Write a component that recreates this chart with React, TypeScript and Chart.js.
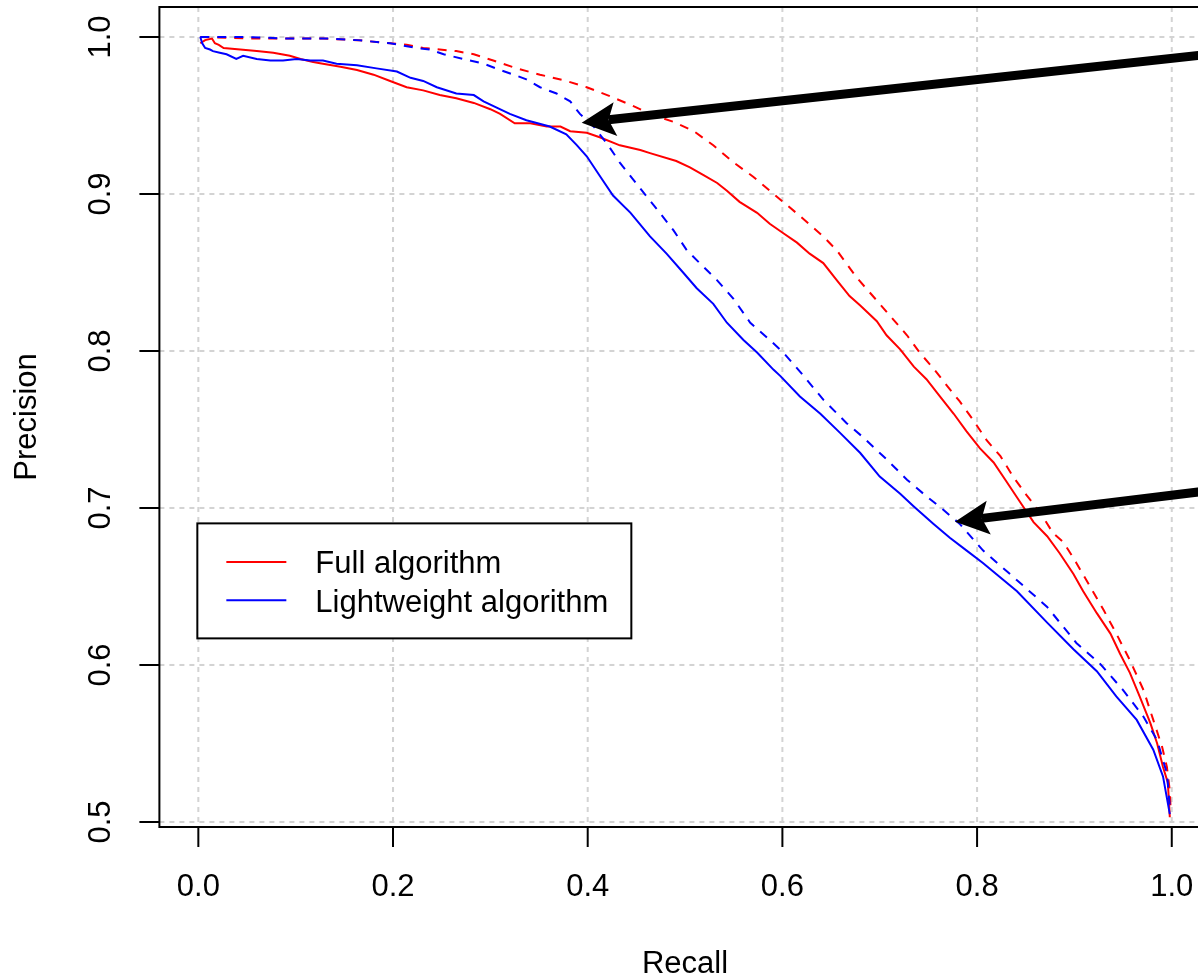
import React, { useEffect, useRef } from "react";
import { Chart, registerables } from "chart.js";

Chart.register(...registerables);

// ---- Axis ticks ----
const xTickValues = [0, 0.2, 0.4, 0.6, 0.8, 1.0];
const xTickLabels = ["0.0", "0.2", "0.4", "0.6", "0.8", "1.0"];
const yTickValues = [0.5, 0.6, 0.7, 0.8, 0.9, 1.0];
const yTickLabels = ["0.5", "0.6", "0.7", "0.8", "0.9", "1.0"];
const xAxisTitle = "Recall";
const yAxisTitle = "Precision";

// ---- Series: Full algorithm (solid red) ----
const fullRecall = [0.002, 0.007, 0.014, 0.017, 0.021, 0.026, 0.043, 0.060, 0.077, 0.094, 0.105, 0.118, 0.128, 0.146, 0.163, 0.180, 0.197, 0.214, 0.231, 0.248, 0.265, 0.283, 0.300, 0.310, 0.325, 0.341, 0.358, 0.372, 0.382, 0.399, 0.413, 0.433, 0.454, 0.464, 0.491, 0.505, 0.519, 0.533, 0.543, 0.556, 0.574, 0.587, 0.601, 0.615, 0.628, 0.642, 0.656, 0.669, 0.680, 0.697, 0.707, 0.721, 0.735, 0.748, 0.762, 0.776, 0.789, 0.803, 0.817, 0.830, 0.844, 0.858, 0.872, 0.885, 0.899, 0.909, 0.923, 0.937, 0.947, 0.957, 0.967, 0.978, 0.985, 0.991, 0.996, 0.998];
const fullPrecision = [0.996, 0.998, 0.999, 0.996, 0.995, 0.993, 0.992, 0.991, 0.990, 0.988, 0.986, 0.984, 0.983, 0.981, 0.979, 0.976, 0.972, 0.968, 0.966, 0.963, 0.961, 0.958, 0.954, 0.951, 0.945, 0.945, 0.943, 0.943, 0.940, 0.939, 0.936, 0.931, 0.928, 0.926, 0.921, 0.917, 0.912, 0.907, 0.902, 0.895, 0.888, 0.881, 0.875, 0.869, 0.862, 0.856, 0.845, 0.835, 0.829, 0.819, 0.810, 0.801, 0.790, 0.782, 0.771, 0.760, 0.749, 0.738, 0.729, 0.717, 0.704, 0.691, 0.682, 0.671, 0.658, 0.647, 0.633, 0.620, 0.607, 0.595, 0.580, 0.563, 0.550, 0.535, 0.525, 0.503];

// ---- Series: Full algorithm (dashed red) ----
const fullDashRecall = [0.002, 0.060, 0.094, 0.128, 0.163, 0.197, 0.214, 0.231, 0.248, 0.265, 0.283, 0.303, 0.327, 0.351, 0.378, 0.399, 0.420, 0.447, 0.464, 0.488, 0.509, 0.529, 0.550, 0.570, 0.591, 0.618, 0.642, 0.656, 0.676, 0.700, 0.714, 0.728, 0.741, 0.755, 0.769, 0.782, 0.796, 0.810, 0.824, 0.837, 0.851, 0.865, 0.878, 0.889, 0.902, 0.916, 0.930, 0.943, 0.957, 0.971, 0.981, 0.990, 0.995, 0.998, 0.999];
const fullDashPrecision = [1.000, 0.999, 0.999, 0.999, 0.998, 0.996, 0.995, 0.993, 0.992, 0.991, 0.989, 0.985, 0.980, 0.976, 0.972, 0.968, 0.963, 0.956, 0.951, 0.946, 0.940, 0.931, 0.920, 0.911, 0.900, 0.886, 0.873, 0.864, 0.847, 0.830, 0.820, 0.810, 0.799, 0.789, 0.778, 0.768, 0.756, 0.743, 0.733, 0.720, 0.708, 0.697, 0.684, 0.678, 0.665, 0.650, 0.635, 0.620, 0.603, 0.584, 0.565, 0.548, 0.535, 0.520, 0.506];

// ---- Series: Lightweight algorithm (solid blue) ----
const lightRecall = [0.002, 0.004, 0.007, 0.012, 0.015, 0.022, 0.029, 0.039, 0.046, 0.060, 0.074, 0.087, 0.101, 0.115, 0.128, 0.142, 0.163, 0.183, 0.204, 0.218, 0.231, 0.245, 0.265, 0.283, 0.293, 0.320, 0.337, 0.361, 0.378, 0.389, 0.399, 0.413, 0.426, 0.444, 0.464, 0.481, 0.498, 0.512, 0.529, 0.543, 0.560, 0.574, 0.591, 0.598, 0.618, 0.639, 0.659, 0.680, 0.700, 0.721, 0.735, 0.755, 0.772, 0.789, 0.806, 0.841, 0.872, 0.899, 0.923, 0.943, 0.964, 0.981, 0.991, 0.998];
const lightPrecision = [1.000, 0.996, 0.993, 0.992, 0.991, 0.990, 0.989, 0.986, 0.988, 0.986, 0.985, 0.985, 0.986, 0.985, 0.985, 0.983, 0.982, 0.980, 0.978, 0.974, 0.972, 0.968, 0.964, 0.963, 0.959, 0.951, 0.947, 0.943, 0.938, 0.931, 0.924, 0.911, 0.899, 0.888, 0.873, 0.862, 0.850, 0.840, 0.830, 0.818, 0.807, 0.799, 0.788, 0.784, 0.771, 0.760, 0.748, 0.735, 0.720, 0.709, 0.701, 0.690, 0.681, 0.673, 0.665, 0.647, 0.627, 0.610, 0.596, 0.580, 0.565, 0.546, 0.529, 0.505];

// ---- Series: Lightweight algorithm (dashed blue) ----
const lightDashRecall = [0.002, 0.043, 0.094, 0.135, 0.163, 0.197, 0.224, 0.238, 0.252, 0.272, 0.293, 0.310, 0.324, 0.337, 0.351, 0.368, 0.382, 0.392, 0.406, 0.420, 0.433, 0.447, 0.461, 0.474, 0.488, 0.502, 0.515, 0.533, 0.550, 0.567, 0.587, 0.601, 0.622, 0.642, 0.666, 0.683, 0.707, 0.728, 0.745, 0.765, 0.782, 0.806, 0.841, 0.872, 0.902, 0.926, 0.950, 0.971, 0.985, 0.995, 0.998];
const lightDashPrecision = [1.000, 1.000, 0.999, 0.999, 0.998, 0.996, 0.993, 0.992, 0.989, 0.986, 0.983, 0.979, 0.976, 0.973, 0.968, 0.964, 0.959, 0.951, 0.943, 0.932, 0.920, 0.909, 0.898, 0.888, 0.877, 0.864, 0.856, 0.845, 0.833, 0.818, 0.807, 0.799, 0.784, 0.769, 0.754, 0.745, 0.731, 0.718, 0.709, 0.699, 0.690, 0.673, 0.654, 0.637, 0.614, 0.601, 0.584, 0.567, 0.552, 0.531, 0.510];

// ---- Legend entries ----
const legendLabels = ["Full algorithm", "Lightweight algorithm"];
const legendColors = ["#ff0000", "#0000ff"];

// ---- Annotation arrows (data coordinates) ----
const arrowFromX = [1.10, 1.10];
const arrowFromY = [0.9931, 0.7157];
const arrowToX = [0.3938, 0.7773];
const arrowToY = [0.9454, 0.6913];

const FONT = '31px "Liberation Sans", Arial, Helvetica, sans-serif';

const toPoints = (xs: number[], ys: number[]) => xs.map((x, i) => ({ x, y: ys[i] }));

const decorPlugin = {
  id: "decor",
  beforeDraw(chart: any) {
    const { ctx, width, height } = chart;
    ctx.save();
    ctx.fillStyle = "#ffffff";
    ctx.fillRect(0, 0, width, height);
    ctx.restore();
  },
  beforeDatasetsDraw(chart: any) {
    const { ctx, chartArea, scales } = chart;
    const xs = scales.x;
    const ys = scales.y;
    ctx.save();
    ctx.strokeStyle = "#d3d3d3";
    ctx.lineWidth = 2;
    ctx.setLineDash([5, 5]);
    xTickValues.forEach((v) => {
      const px = xs.getPixelForValue(v);
      ctx.beginPath();
      ctx.moveTo(px, chartArea.top);
      ctx.lineTo(px, chartArea.bottom);
      ctx.stroke();
    });
    yTickValues.forEach((v) => {
      const py = ys.getPixelForValue(v);
      ctx.beginPath();
      ctx.moveTo(chartArea.left, py);
      ctx.lineTo(chartArea.right, py);
      ctx.stroke();
    });
    ctx.restore();
  },
  afterDatasetsDraw(chart: any) {
    const { ctx, chartArea, scales } = chart;
    const xs = scales.x;
    const ys = scales.y;
    ctx.save();
    // box
    ctx.strokeStyle = "#000";
    ctx.lineWidth = 2;
    ctx.setLineDash([]);
    ctx.strokeRect(chartArea.left, chartArea.top, chartArea.right - chartArea.left, chartArea.bottom - chartArea.top);
    // ticks
    xTickValues.forEach((v) => {
      const px = xs.getPixelForValue(v);
      ctx.beginPath();
      ctx.moveTo(px, chartArea.bottom);
      ctx.lineTo(px, chartArea.bottom + 20);
      ctx.stroke();
    });
    yTickValues.forEach((v) => {
      const py = ys.getPixelForValue(v);
      ctx.beginPath();
      ctx.moveTo(chartArea.left, py);
      ctx.lineTo(chartArea.left - 20, py);
      ctx.stroke();
    });
    // tick labels
    ctx.fillStyle = "#000";
    ctx.font = FONT;
    ctx.textAlign = "center";
    ctx.textBaseline = "alphabetic";
    xTickValues.forEach((v, i) => {
      ctx.fillText(xTickLabels[i], xs.getPixelForValue(v), chartArea.bottom + 69);
    });
    yTickValues.forEach((v, i) => {
      ctx.save();
      ctx.translate(chartArea.left - 49, ys.getPixelForValue(v));
      ctx.rotate(-Math.PI / 2);
      ctx.fillText(yTickLabels[i], 0, 0);
      ctx.restore();
    });
    // axis titles
    ctx.fillText(xAxisTitle, (chartArea.left + chartArea.right) / 2, chartArea.bottom + 146);
    ctx.save();
    ctx.translate(36, (chartArea.top + chartArea.bottom) / 2);
    ctx.rotate(-Math.PI / 2);
    ctx.fillText(yAxisTitle, 0, 0);
    ctx.restore();

    // legend
    const lx = xs.getPixelForValue(0) - 1;
    const ly = ys.getPixelForValue(0.69) - 0.3;
    const lw = 434;
    const lh = 115;
    ctx.fillStyle = "#fff";
    ctx.fillRect(lx, ly, lw, lh);
    ctx.strokeStyle = "#000";
    ctx.lineWidth = 2;
    ctx.strokeRect(lx, ly, lw, lh);
    ctx.textAlign = "left";
    legendLabels.forEach((lab, i) => {
      const rowY = ly + 38.5 + i * 38.3;
      ctx.strokeStyle = legendColors[i];
      ctx.lineWidth = 2;
      ctx.beginPath();
      ctx.moveTo(lx + 29, rowY);
      ctx.lineTo(lx + 89, rowY);
      ctx.stroke();
      ctx.fillStyle = "#000";
      ctx.fillText(lab, lx + 118, rowY + 11.5);
    });

    // arrows
    ctx.fillStyle = "#000";
    ctx.strokeStyle = "#000";
    arrowFromX.forEach((_, i) => {
      const x0 = xs.getPixelForValue(arrowFromX[i]);
      const y0 = ys.getPixelForValue(arrowFromY[i]);
      const x1 = xs.getPixelForValue(arrowToX[i]);
      const y1 = ys.getPixelForValue(arrowToY[i]);
      const len = Math.hypot(x0 - x1, y0 - y1);
      const ux = (x0 - x1) / len;
      const uy = (y0 - y1) / len;
      const nx = -uy;
      const ny = ux;
      const headLen = 34;
      const headHalf = 17;
      const notch = 27;
      ctx.lineWidth = 9;
      ctx.lineCap = "butt";
      ctx.beginPath();
      ctx.moveTo(x0, y0);
      ctx.lineTo(x1 + ux * notch, y1 + uy * notch);
      ctx.stroke();
      ctx.beginPath();
      ctx.moveTo(x1, y1);
      ctx.lineTo(x1 + ux * headLen + nx * headHalf, y1 + uy * headLen + ny * headHalf);
      ctx.lineTo(x1 + ux * notch, y1 + uy * notch);
      ctx.lineTo(x1 + ux * headLen - nx * headHalf, y1 + uy * headLen - ny * headHalf);
      ctx.closePath();
      ctx.fill();
    });
    ctx.restore();
  },
};

export default function App() {
  const canvasRef = useRef<HTMLCanvasElement | null>(null);

  useEffect(() => {
    if (!canvasRef.current) return;
    const chart = new Chart(canvasRef.current, {
      type: "scatter",
      data: {
        datasets: [
          {
            label: "Lightweight algorithm (dashed)",
            data: toPoints(lightDashRecall, lightDashPrecision),
            borderColor: "#0000ff",
            borderWidth: 2,
            borderDash: [9, 8],
            showLine: true,
            pointRadius: 0,
            fill: false,
          },
          {
            label: "Lightweight algorithm",
            data: toPoints(lightRecall, lightPrecision),
            borderColor: "#0000ff",
            borderWidth: 2,
            showLine: true,
            pointRadius: 0,
            fill: false,
          },
          {
            label: "Full algorithm (dashed)",
            data: toPoints(fullDashRecall, fullDashPrecision),
            borderColor: "#ff0000",
            borderWidth: 2,
            borderDash: [9, 8],
            showLine: true,
            pointRadius: 0,
            fill: false,
          },
          {
            label: "Full algorithm",
            data: toPoints(fullRecall, fullPrecision),
            borderColor: "#ff0000",
            borderWidth: 2,
            showLine: true,
            pointRadius: 0,
            fill: false,
          },
        ],
      },
      options: {
        responsive: false,
        animation: false,
        devicePixelRatio: 1,
        layout: { padding: { left: 159.4, right: 19.3, top: 7, bottom: 149 } },
        scales: {
          x: { type: "linear", min: -0.04, max: 1.04, display: false },
          y: { type: "linear", min: 0.4968, max: 1.0191, display: false },
        },
        elements: { line: { tension: 0 }, point: { radius: 0 } },
        plugins: { legend: { display: false }, tooltip: { enabled: false } },
        events: [],
      },
      plugins: [decorPlugin],
    } as any);
    return () => chart.destroy();
  }, []);

  return (
    <div
      style={{
        position: "fixed",
        left: 0,
        top: 0,
        width: 1198,
        height: 976,
        overflow: "hidden",
        background: "#fff",
      }}
    >
      <canvas ref={canvasRef} width={1230} height={976} style={{ display: "block" }} />
    </div>
  );
}
